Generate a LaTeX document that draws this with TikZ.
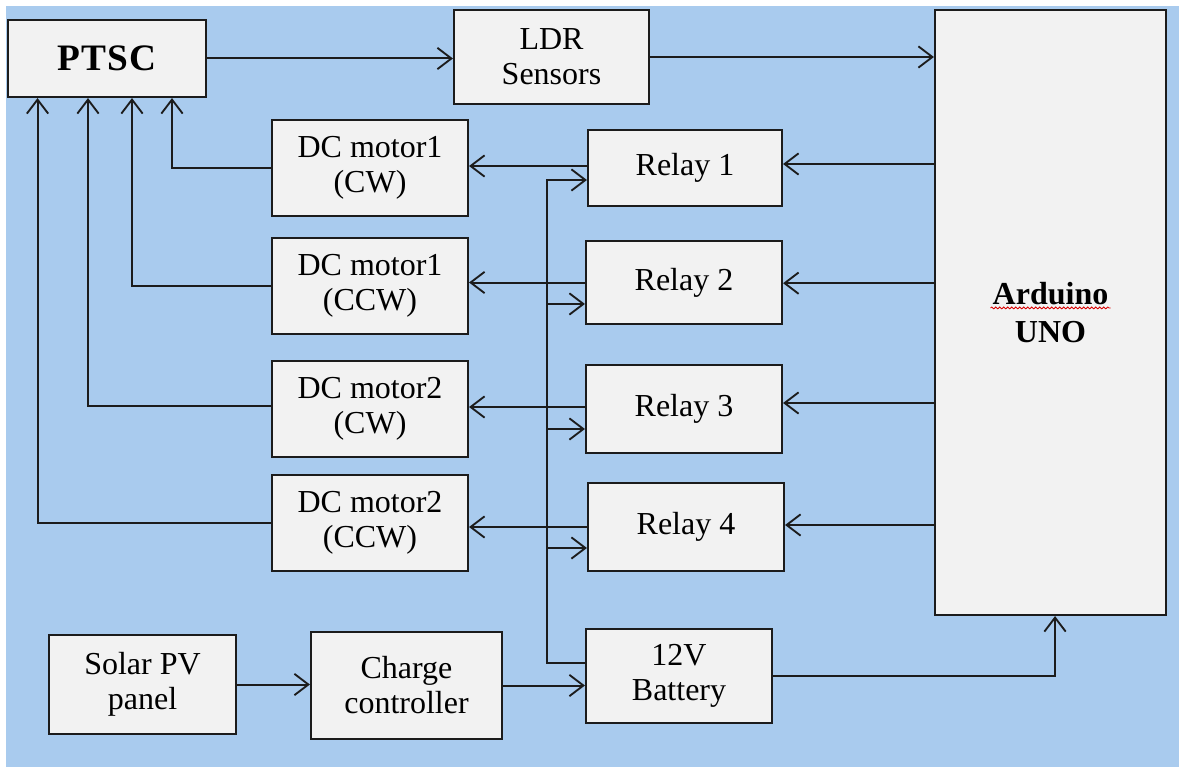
\documentclass[tikz,border=0pt]{standalone}
\usepackage{fontspec}
\setmainfont{Liberation Serif}
\usetikzlibrary{arrows.meta,decorations.pathmorphing}
\definecolor{bgblue}{RGB}{169,203,238}
\definecolor{boxfill}{RGB}{242,242,242}
\definecolor{linecol}{RGB}{28,28,28}
\begin{document}
\begin{tikzpicture}[x=0.75pt,y=-0.75pt,
  box/.style={draw=linecol, line width=1.6pt, fill=boxfill, align=center, inner sep=0pt,
              font=\fontsize{24}{26.25}\selectfont},
  conn/.style={draw=linecol, line width=1.5pt},
  arr/.style={conn, -{Straight Barb[length=10.5pt,width=16pt,line width=1.4pt]}}]
\useasboundingbox (0,0) rectangle (1179,767);
\fill[bgblue] (6,6) rectangle (1179,767);

% nodes
\node[box, minimum width=148.5pt, minimum height=57.75pt] (ptsc) at (107,58.5)
  {\fontsize{28}{30}\selectfont\bfseries\addfontfeature{LetterSpace=3}PTSC};
\node[box, minimum width=146.25pt, minimum height=70.5pt] (ldr) at (551.5,57) {LDR\\Sensors};
\node[box, minimum width=173.25pt, minimum height=453.75pt, font=\fontsize{24}{28.5}\selectfont\bfseries] (ard) at (1050.5,312.5) {Arduino\\UNO};

\node[box, minimum width=147pt, minimum height=72pt] (m1) at (370,168) {DC motor1\\(CW)};
\node[box, minimum width=147pt, minimum height=72pt] (m2) at (370,286) {DC motor1\\(CCW)};
\node[box, minimum width=147pt, minimum height=72pt] (m3) at (370,409) {DC motor2\\(CW)};
\node[box, minimum width=147pt, minimum height=72pt] (m4) at (370,523) {DC motor2\\(CCW)};

\node[box, minimum width=145.5pt, minimum height=57pt] (r1) at (685,168) {Relay 1};
\node[box, minimum width=147pt, minimum height=62.25pt] (r2) at (684,282.5) {Relay 2};
\node[box, minimum width=147pt, minimum height=66pt] (r3) at (684,409) {Relay 3};
\node[box, minimum width=147pt, minimum height=66pt] (r4) at (686,527) {Relay 4};

\node[box, minimum width=140.25pt, minimum height=74.25pt] (solar) at (142.5,684.5) {Solar PV\\panel};
\node[box, minimum width=143.25pt, minimum height=80.25pt] (charge) at (406.5,685.5) {Charge\\controller};
\node[box, minimum width=139.5pt, minimum height=70.5pt] (bat) at (679,676) {12V\\Battery};

% spell-check squiggle under "Arduino"
\draw[red!85!black, line width=0.6pt, decorate, decoration={snake, amplitude=0.7pt, segment length=3pt}]
  ([xshift=-45pt,yshift=3.4pt]ard.center) -- ([xshift=45pt,yshift=3.4pt]ard.center);

% helper coordinates
\path ([yshift=3pt]r1.east) coordinate (r1e)
      ([yshift=1.5pt]r1.west) coordinate (r1w)
      ([yshift=-0.5pt]r2.east) coordinate (r2e)
      (r2.west) coordinate (r2w)
      ([yshift=4.5pt]r3.east) coordinate (r3e)
      ([yshift=1.5pt]r3.west) coordinate (r3w)
      ([yshift=1.5pt]r4.east) coordinate (r4e)
      (r4.west) coordinate (r4w)
      ([yshift=9.75pt]bat.west) coordinate (bw)
      ([yshift=-9pt]r1.west) coordinate (b1)
      ([yshift=-16.1pt]r2.west) coordinate (b2)
      ([yshift=-15pt]r3.west) coordinate (b3)
      ([yshift=-15.75pt]r4.west) coordinate (b4);
\coordinate (busx) at (547,0);

% connectors
\draw[arr] (ptsc.east) -- (ptsc.east -| ldr.west);
\draw[arr] (ldr.east) -- (ldr.east -| ard.west);

\draw[arr] (ard.west |- r1e) -- (r1e);
\draw[arr] (ard.west |- r2e) -- (r2e);
\draw[arr] (ard.west |- r3e) -- (r3e);
\draw[arr] (ard.west |- r4e) -- (r4e);

\draw[arr] (r1w) -- (r1w -| m1.east);
\draw[arr] (r2w) -- (r2w -| m2.east);
\draw[arr] (r3w) -- (r3w -| m3.east);
\draw[arr] (r4w) -- (r4w -| m4.east);

\draw[arr] (m1.west) -| ([xshift=48.75pt]ptsc.south);
\draw[arr] (m2.west) -| ([xshift=18.75pt]ptsc.south);
\draw[arr] ([yshift=2.25pt]m3.west) -| ([xshift=-14.25pt]ptsc.south);
\draw[arr] (m4.west) -| ([xshift=-52.1pt]ptsc.south);

\draw[arr] (bw) -| (busx |- b1) -- (b1);
\draw[arr] (busx |- b2) -- (b2);
\draw[arr] (busx |- b3) -- (b3);
\draw[arr] (busx |- b4) -- (b4);

\draw[arr] (solar.east) -- (solar.east -| charge.west);
\draw[arr] (charge.east) -- (charge.east -| bat.west);
\draw[arr] (bat.east) -| ([xshift=3.4pt]ard.south);
\end{tikzpicture}
\end{document}
